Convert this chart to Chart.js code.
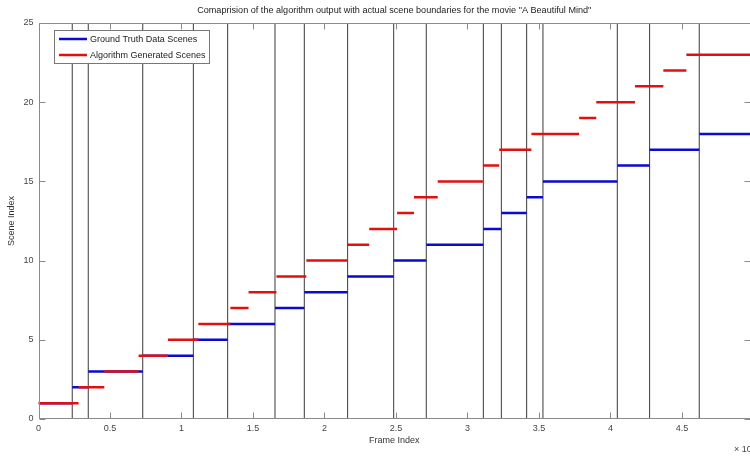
<!DOCTYPE html>
<html>
<head>
<meta charset="utf-8">
<script src="https://cdn.jsdelivr.net/npm/chart.js@4"></script>
<style>
  html, body { margin: 0; padding: 0; background: #fff; }
  canvas { display: block; }
</style>
</head>
<body>
<canvas id="chart" width="750" height="457"></canvas>
<script>
// scene boundaries in frames (x 10^4)
const truthBoundaries = [0, 0.236, 0.348, 0.729, 1.083, 1.323, 1.654, 1.859, 2.162, 2.484, 2.712,
    3.111, 3.237, 3.414, 3.528, 4.048, 4.274, 4.621, 4.976];
const truthScenes = [1, 2, 3, 4, 5, 6, 7, 8, 9, 10, 11, 12, 13, 14, 15, 16, 17, 18];

const algoBoundaries = [0, 0.28, 0.46, 0.70, 0.905, 1.118, 1.342, 1.469, 1.664, 1.873, 2.16, 2.313,
    2.508, 2.626, 2.792, 3.108, 3.222, 3.447, 3.781, 3.901, 4.172, 4.37, 4.531, 4.976];
const algoScenes = [1, 2, 3, 4, 5, 6, 7, 8, 9, 10, 11, 12, 13, 14, 15, 16, 17, 18, 19, 20, 21, 22, 23];

const xTickValues = [0, 0.5, 1, 1.5, 2, 2.5, 3, 3.5, 4, 4.5];
const yTickValues = [0, 5, 10, 15, 20, 25];

const titleText = 'Comaprision of the algorithm output with actual scene boundaries for the movie "A Beautiful Mind"';
const xMax = 4.976;
const yMax = 25;
const fontFamily = '"Liberation Sans", Arial, sans-serif';
const axisColor = '#8a8a8a';
const tickLen = 6;

// steps: one flat piece per scene, broken with a null
const toSteps = (bounds, scenes) => {
    const pts = [];
    scenes.forEach((s, i) => {
        pts.push({ x: bounds[i], y: s });
        pts.push({ x: bounds[i + 1], y: s });
        pts.push({ x: bounds[i + 1], y: null });
    });
    return pts;
};

// vertical lines at the ground truth cuts
const boundaryLines = [];
truthBoundaries.slice(1, -1).forEach(b => {
    boundaryLines.push({ x: b, y: 0 });
    boundaryLines.push({ x: b, y: yMax });
    boundaryLines.push({ x: b, y: null });
});

const boxPlugin = {
    id: 'matlabBox',
    afterDatasetsDraw: (chart) => {
        const { ctx, chartArea: a, scales } = chart;
        const L = Math.round(a.left) + 0.5, T = Math.round(a.top) + 0.5;
        const B = Math.round(a.bottom) - 0.5, R = Math.round(a.right) + 0.5;
        ctx.save();
        ctx.strokeStyle = axisColor;
        ctx.lineWidth = 1;
        ctx.beginPath();
        ctx.moveTo(R, T); ctx.lineTo(L, T); ctx.lineTo(L, B); ctx.lineTo(R, B);
        xTickValues.forEach(v => {
            const px = Math.round(scales.x.getPixelForValue(v)) + 0.5;
            ctx.moveTo(px, B); ctx.lineTo(px, B - tickLen);
            ctx.moveTo(px, T); ctx.lineTo(px, T + tickLen);
        });
        yTickValues.forEach(v => {
            const py = Math.round(scales.y.getPixelForValue(v)) + 0.5;
            ctx.moveTo(L, py); ctx.lineTo(L + tickLen, py);
            ctx.moveTo(R, py); ctx.lineTo(R - tickLen, py);
        });
        ctx.stroke();

        // title centred over the axes, like matlab
        ctx.fillStyle = '#222';
        ctx.font = '9.1px ' + fontFamily;
        ctx.textAlign = 'center';
        ctx.textBaseline = 'middle';
        ctx.fillText(titleText, (a.left + a.right) / 2, 10);

        // exponent note under the axis
        ctx.fillStyle = '#444';
        ctx.font = '9px ' + fontFamily;
        ctx.textAlign = 'left';
        ctx.fillText('\u00d7 10', 734, 450);

        // legend box
        const lx = 54.5, ly = 30.5, lw = 155, lh = 33;
        ctx.fillStyle = '#fff';
        ctx.fillRect(lx, ly, lw, lh);
        ctx.strokeStyle = '#777';
        ctx.strokeRect(lx, ly, lw, lh);
        const items = [chart.data.datasets[1], chart.data.datasets[0]];
        items.forEach((ds, i) => {
            const y = 39 + i * 16;
            ctx.strokeStyle = ds.borderColor;
            ctx.lineWidth = 2.5;
            ctx.beginPath();
            ctx.moveTo(59, y); ctx.lineTo(87, y);
            ctx.stroke();
            ctx.fillStyle = '#222';
            ctx.fillText(ds.label, 90, y + 0.5);
        });
        ctx.restore();
    }
};

new Chart(document.getElementById('chart'), {
    type: 'line',
    data: {
        datasets: [
            {
                label: 'Algorithm Generated Scenes',
                data: toSteps(algoBoundaries, algoScenes),
                borderColor: '#e01010',
                borderWidth: 2.5,
                pointRadius: 0,
                spanGaps: false,
                order: 1
            },
            {
                label: 'Ground Truth Data Scenes',
                data: toSteps(truthBoundaries, truthScenes),
                borderColor: '#0a0ad0',
                borderWidth: 2.5,
                pointRadius: 0,
                spanGaps: false,
                order: 2
            },
            {
                label: 'boundaries',
                data: boundaryLines,
                borderColor: '#3a3a3a',
                borderWidth: 1,
                pointRadius: 0,
                spanGaps: false,
                order: 3
            }
        ]
    },
    options: {
        responsive: false,
        animation: false,
        devicePixelRatio: 1,
        layout: { padding: { top: 23 } },
        plugins: {
            legend: { display: false },
            tooltip: { enabled: false },
            title: { display: false }
        },
        scales: {
            x: {
                type: 'linear',
                min: 0,
                max: xMax,
                grid: { display: false, drawTicks: false, tickLength: 0 },
                border: { display: false },
                afterBuildTicks: (scale) => { scale.ticks = xTickValues.map(v => ({ value: v })); },
                afterFit: (scale) => { scale.height = 38; },
                ticks: {
                    color: '#444',
                    padding: 4,
                    font: { family: fontFamily, size: 9 },
                    callback: (v) => String(v)
                },
                title: {
                    display: true,
                    text: 'Frame Index',
                    color: '#333',
                    font: { family: fontFamily, size: 9 },
                    padding: { top: 0, bottom: 10.6 }
                }
            },
            y: {
                min: 0,
                max: yMax,
                grid: { display: false, drawTicks: false, tickLength: 0 },
                border: { display: false },
                afterBuildTicks: (scale) => { scale.ticks = yTickValues.map(v => ({ value: v })); },
                afterFit: (scale) => { scale.width = 38.5; },
                ticks: {
                    color: '#444',
                    padding: 5,
                    font: { family: fontFamily, size: 9 },
                    callback: (v) => String(v)
                },
                title: {
                    display: true,
                    text: 'Scene Index',
                    color: '#333',
                    font: { family: fontFamily, size: 9 },
                    padding: { top: 6.6, bottom: 0 }
                }
            }
        }
    },
    plugins: [boxPlugin]
});
</script>
</body>
</html>
